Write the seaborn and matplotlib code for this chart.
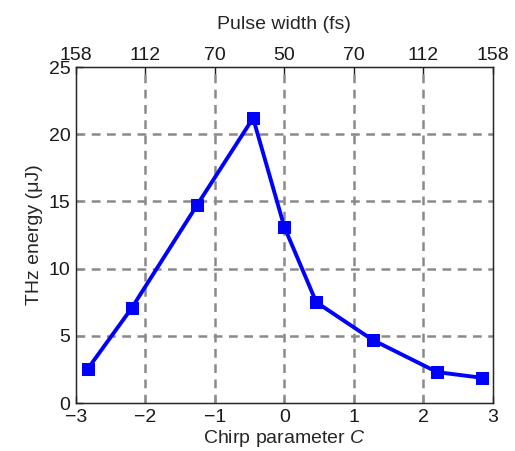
import pandas as pd
import seaborn as sns
import matplotlib
matplotlib.use("Agg")
import matplotlib.pyplot as plt

# chirp parameter C and measured THz energy (uJ)
chirp = [-2.83, -2.2, -1.26, -0.45, 0.0, 0.46, 1.27, 2.2, 2.84]
energy = [2.55, 7.05, 14.7, 21.2, 13.1, 7.5, 4.7, 2.3, 1.88]

# top axis: pulse width (fs) at each integer chirp value
top_ticks = [-3, -2, -1, 0, 1, 2, 3]
top_labels = ["158", "112", "70", "50", "70", "112", "158"]

data = pd.DataFrame({"chirp": chirp, "energy": energy})

sns.set_style("ticks")
plt.rcParams["font.family"] = ["Liberation Sans", "DejaVu Sans"]
plt.rcParams["mathtext.fontset"] = "custom"
plt.rcParams["mathtext.it"] = "Liberation Sans:italic"

fig = plt.figure(figsize=(5.15, 4.51), dpi=100)
ax = fig.add_axes([0.1476, 0.1064, 0.809, 0.745])

sns.lineplot(data=data, x="chirp", y="energy", ax=ax, color="#0000ff",
             linewidth=2.8, marker="s", markersize=9,
             markeredgecolor="#0000ff", zorder=3)

ax.set_xlim(-3, 3)
ax.set_ylim(0, 25)
ax.set_xticks(top_ticks)
ax.set_xticklabels(["\u22123", "\u22122", "\u22121", "0", "1", "2", "3"])
ax.set_yticks([0, 5, 10, 15, 20, 25])

# dashed grid only on the inner lines
for gx in [-2, -1, 0, 1, 2]:
    ax.axvline(gx, color="#8a8a8a", linestyle=(0, (3.5, 2.6)), linewidth=1.8, zorder=1)
for gy in [5, 10, 15, 20]:
    ax.axhline(gy, color="#8a8a8a", linestyle=(0, (3.5, 2.6)), linewidth=1.8, zorder=1)

ax.tick_params(direction="in", length=5, width=1, labelsize=14, colors="#1a1a1a", pad=4)
ax.set_xlabel("Chirp parameter $C$", fontsize=14, labelpad=2)
ax.set_ylabel("THz energy (\u03bcJ)", fontsize=14, labelpad=4)
for sp in ax.spines.values():
    sp.set_linewidth(1)
    sp.set_color("#1a1a1a")

top = ax.twiny()
top.set_xlim(ax.get_xlim())
top.set_xticks(top_ticks)
top.set_xticklabels(top_labels)
top.tick_params(direction="in", length=5, width=1, labelsize=14, colors="#1a1a1a", pad=2)
top.set_xlabel("Pulse width (fs)", fontsize=14, labelpad=13)

fig.savefig("out.png", dpi=100)
